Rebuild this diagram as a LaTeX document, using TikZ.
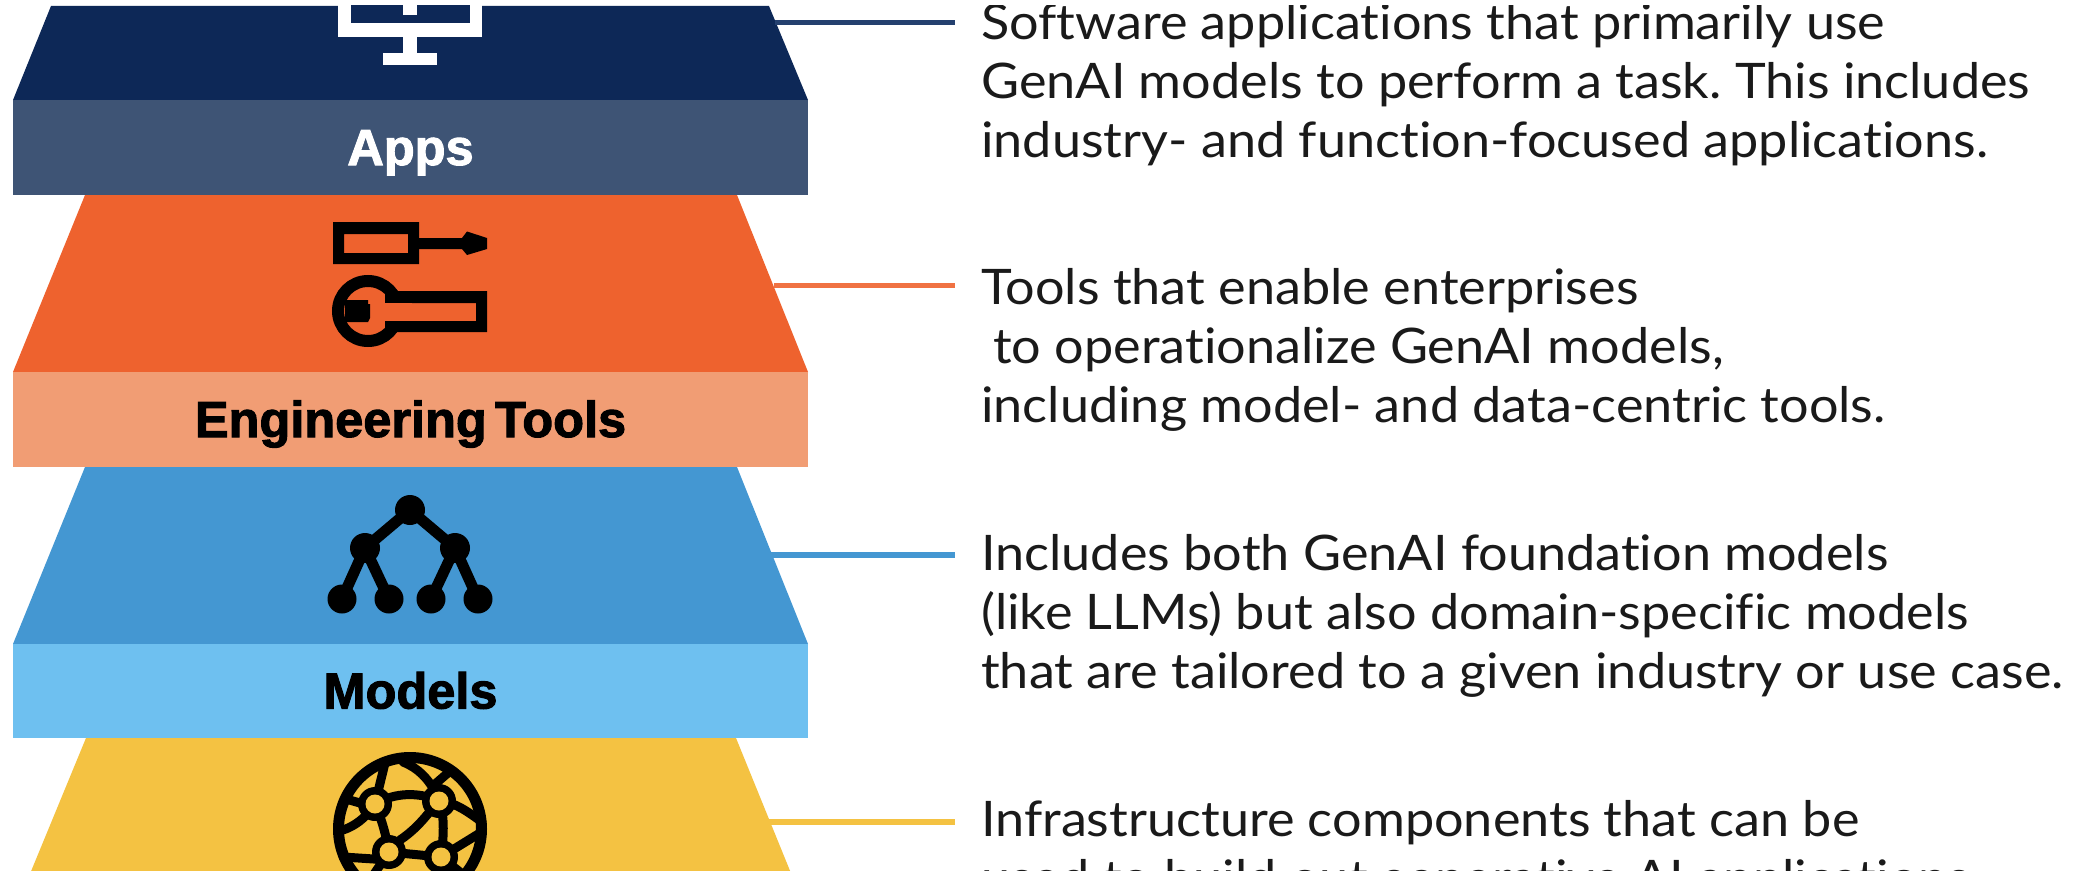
\documentclass[tikz,border=0pt]{standalone}
\usepackage{fontspec}
\setmainfont{Lato}[FakeStretch=1.065,Ligatures={NoCommon,TeX}]
\newfontfamily\labelfont[BoldFont={Liberation Sans Bold},BoldFeatures={FakeBold=2,WordSpace=0.6}]{Liberation Sans}
\definecolor{navy}{HTML}{0D2857}
\definecolor{navyband}{HTML}{3E5475}
\definecolor{navyline}{HTML}{24406F}
\definecolor{orangetop}{HTML}{EE622E}
\definecolor{orangeband}{HTML}{F19D74}
\definecolor{bluetop}{HTML}{4497D2}
\definecolor{blueband}{HTML}{6EC0F0}
\definecolor{yellowtop}{HTML}{F4C242}
\definecolor{bodytext}{HTML}{1A1A1A}
\tikzset{
  x=1pt,y=-1pt,
  band/.style={minimum width=795pt,minimum height=95pt,inner sep=0pt,text height=35pt,text depth=0pt,
    font=\labelfont\bfseries\fontsize{50.5}{60}\selectfont},
  desc/.style={anchor=north west,inner sep=0pt,align=left,text=bodytext,
    font=\frenchspacing\fontsize{49}{59}\selectfont},
  leader/.style={line width=5.5pt},
  ink/.style={draw=black,line width=#1,line cap=round,line join=round},
  ink/.default=11pt
}
\newcommand{\firstline}{\rule{0pt}{40pt}}
\begin{document}
\begin{tikzpicture}
\useasboundingbox (0,0) rectangle (2088,872);
\fill[white] (0,0) rectangle (2088,872);
\begin{scope}
\clip (0,6) rectangle (2088,870);
% layer tops
\fill[navy] (13,100) -- (51,6) -- (769,6) -- (808,100) -- cycle;
\fill[orangetop] (13,372) -- (85,195) -- (737,195) -- (808,372) -- cycle;
\fill[bluetop] (13,644) -- (85,467) -- (737,467) -- (808,644) -- cycle;
\fill[yellowtop] (13,915) -- (86,738) -- (736,738) -- (808,915) -- cycle;
% band fronts
\node[band,fill=navyband,text=white] (apps) at (410.5,147.5) {Apps};
\node[band,fill=orangeband,text=black] (tools) at (410.5,419.5) {Engineering Tools};
\node[band,fill=blueband,text=black,minimum height=94pt] (models) at (410.5,691) {Models};
% monitor icon
\fill[white] (338,0) rectangle (482,37);
\fill[navy] (351,0) rectangle (470,23);
\fill[white] (403,0) rectangle (417,15);
\fill[white] (403,37) rectangle (417,53);
\fill[white] (383,53) rectangle (437,65);
% tools icon
\fill[black,even odd rule] (333,222) rectangle (419,264) (344,234) rectangle (408,253);
\fill[black] (419,238) -- (462,238) -- (467,231.5) -- (487,238) -- (487,249) -- (467,255) -- (462,249) -- (419,249) -- cycle;
\draw[black,line width=12pt] (368,311) circle (30);
\fill[black,even odd rule] (385,291) rectangle (487,332) (385,303) rectangle (476,321);
\fill[orangetop] (378,303) rectangle (412,321);
\fill[black] (345,300) -- (368,300) -- (368,304) -- (370,304) -- (370,318) -- (368,322) -- (345,322) -- cycle;
% tree icon
\draw[ink] (410,510) -- (365,548) (410,510) -- (455,548)
  (365,548) -- (342,599) (365,548) -- (389,599) (455,548) -- (431,599) (455,548) -- (478,599);
\fill[black] (410,510) circle (15) (365,548) circle (15) (455,548) circle (15)
  (342,599) circle (14.5) (389,599) circle (14.5) (431,599) circle (14.5) (478,599) circle (14.5);
% globe icon
\draw[black,line width=11pt] (410,829) circle (71.5);
\draw[ink=9pt]
  (375,804) -- (385,763)
  (375,804) .. controls (395,792) and (420,792) .. (439,801)
  (343,830) .. controls (355,826) and (365,818) .. (372,808)
  (346,799) -- (360,803)
  (375,804) .. controls (382,820) and (386,835) .. (389,852)
  (389,852) -- (441,857)
  (400,840) .. controls (412,832) and (422,822) .. (435,805)
  (403,762) .. controls (418,768) and (428,778) .. (437,795)
  (434,785) -- (449,772)
  (441,805) .. controls (444,820) and (444,835) .. (441,857)
  (439,801) .. controls (455,802) and (468,812) .. (482,822)
  (480,833) -- (441,857)
  (343,857) -- (389,860)
  (441,857) -- (470,880)
  (389,852) -- (370,880);
\fill[black] (375,804) circle (17) (439,801) circle (17) (389,852) circle (17) (441,857) circle (17);
\fill[yellowtop] (375,804) circle (9.5) (439,801) circle (9.5) (389,852) circle (9.5) (441,857) circle (9.5);
% descriptions
\node[desc] (appstext) at (981,-1) {\firstline Software applications that primarily use\\GenAI models to perform a task. This includes\\industry- and function-focused applications.};
\node[desc] (toolstext) at (981,264) {\firstline Tools that enable enterprises\\\hspace*{12pt}to operationalize GenAI models,\\including model- and data-centric tools.};
\node[desc] (modelstext) at (981,530) {\firstline Includes both GenAI foundation models\\(like LLMs) but also domain-specific models\\that are tailored to a given industry or use case.};
\node[desc] (infratext) at (981,796) {\firstline Infrastructure components that can be\\used to build out generative AI applications.};
% leaders
\coordinate (appsA) at (775,22.7);
\coordinate (appsB) at (955,22.7);
\coordinate (toolsA) at (774,285.5);
\coordinate (toolsB) at (955,285.5);
\coordinate (modelsA) at (770,555);
\coordinate (modelsB) at (955,555);
\coordinate (infraA) at (768,822);
\coordinate (infraB) at (955,822);
\draw[leader,navyline] (appsA) -- (appsB);
\draw[leader,orangetop!90!white] (toolsA) -- (toolsB);
\draw[leader,bluetop] (modelsA) -- (modelsB);
\draw[leader,yellowtop] (infraA) -- (infraB);
\end{scope}
\end{tikzpicture}
\end{document}
